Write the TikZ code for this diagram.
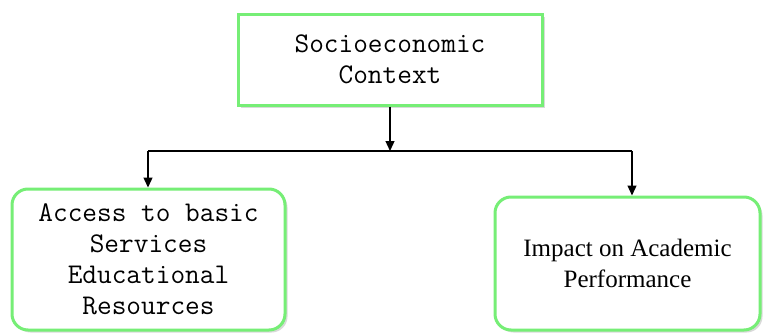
\documentclass[tikz,border=0pt]{standalone}
\usepackage{fontspec}
\setmainfont{Liberation Serif}
\usetikzlibrary{arrows.meta,shadows}
\definecolor{boxgreen}{RGB}{118,238,118}
\tikzset{
  box/.style={draw=boxgreen, line width=3pt, fill=white, align=center,
    drop shadow={shadow xshift=2.5pt, shadow yshift=-2.5pt, opacity=0.25, fill=black!60},
    inner sep=0pt},
  sharpbox/.style={box},
  roundbox/.style={box, rounded corners=16pt},
  conn/.style={line width=1.3pt, black},
  arr/.style={conn, -{Triangle[length=10pt,width=9pt]}},
  monotext/.style={font=\ttfamily\fontsize{28.5}{31}\selectfont},
  seriftext/.style={font=\fontsize{25}{31}\selectfont}
}
\begin{document}
\begin{tikzpicture}[x=1pt,y=-1pt]
\useasboundingbox (0,0) rectangle (763,332);
\node[sharpbox, monotext, minimum width=304pt, minimum height=91pt] (top) at (390,59.5)
  {Socioeconomic\\Context};
\node[roundbox, monotext, minimum width=273pt, minimum height=141pt] (left) at (148.5,259.5)
  {Access to basic\\Services\\Educational\\Resources};
\node[roundbox, seriftext, minimum width=265pt, minimum height=133pt] (right) at (627.5,263.5)
  {Impact on Academic\\Performance};
\coordinate (j) at (390,151);
\coordinate (L) at (148,151);
\coordinate (R) at (632,151);
\draw[arr] (top.south) -- (j);
\draw[conn] (L) -- (R);
\draw[arr] (L) -- (L |- left.north);
\draw[arr] (R) -- (R |- right.north);
\end{tikzpicture}
\end{document}
